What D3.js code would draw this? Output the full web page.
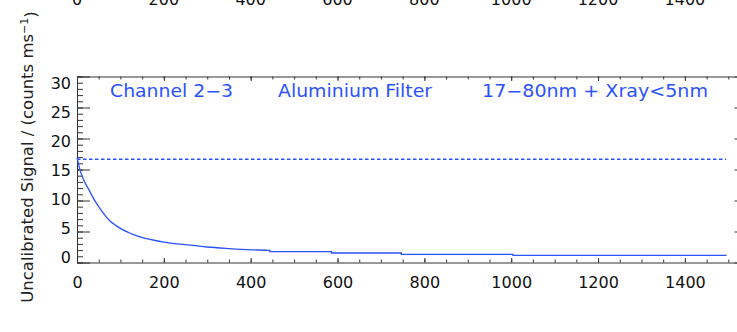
<!DOCTYPE html>
<html>
<head>
<meta charset="utf-8">
<script src="https://cdn.jsdelivr.net/npm/d3@7"></script>
<style>
  html, body { margin: 0; padding: 0; background: #fff; }
  svg { display: block; }
  text { font-family: "DejaVu Sans", sans-serif; }
</style>
</head>
<body>
<svg id="chart" width="737" height="332"></svg>
<script>
// ---- data ----
const timeValues   = [0, 7, 15, 30, 40, 53, 60, 76, 90, 105, 120, 140, 160, 180, 200, 230, 260, 300, 350, 400, 444, 444, 586, 586, 747, 747, 1004, 1004, 1496];
const signalValues = [17.0, 14.9, 13.4, 11.4, 10.1, 8.7, 8.0, 6.7, 5.95, 5.3, 4.8, 4.25, 3.85, 3.55, 3.3, 3.0, 2.8, 2.5, 2.25, 2.05, 1.95, 1.74, 1.74, 1.53, 1.53, 1.32, 1.32, 1.16, 1.16];
const referenceLevel = 16.65;
const referenceEnd = 1495;
const xTickLabels = [0, 200, 400, 600, 800, 1000, 1200, 1400];
const yTickLabels = [0, 5, 10, 15, 20, 25, 30];
const titleParts = ["Channel 2\u22123", "Aluminium Filter", "17\u221280nm + Xray<5nm"];
const yAxisTitle = "Uncalibrated Signal / (counts ms";
const yAxisTitleSup = "\u22121";

// ---- layout ----
const blue = "#2b52ff";
const axisColor = "#333";
const svg = d3.select("#chart");

const x = d3.scaleLinear().domain([0, 1520]).range([77, 737]);
const y = d3.scaleLinear().domain([0, 30]).range([262.5, 76.5]);
const yLabelPos = d3.scaleLinear().domain([0, 30]).range([257, 83]);

const xMinor = d3.range(0, 1501, 50);
const yMinor = d3.range(0, 31, 1);

function styleAxis(g) {
  g.selectAll("path, line").attr("stroke", axisColor).attr("stroke-width", 1);
  g.select(".domain").attr("stroke", axisColor);
}

// bottom axis
const gB = svg.append("g").attr("transform", `translate(0,${y(0)})`);
gB.call(d3.axisBottom(x).tickValues(xMinor).tickSize(-3).tickSizeOuter(0).tickFormat(""));
gB.call(g => g.append("g").call(d3.axisBottom(x).tickValues(xTickLabels).tickSize(-4.5).tickSizeOuter(0).tickFormat(d3.format("d")))
  .call(a => a.select(".domain").remove())
  .call(a => a.selectAll("text").attr("y", 25.5).attr("dy", 0).attr("fill", "#111")
      .attr("font-size", 16).attr("font-family", "DejaVu Sans, sans-serif")));
styleAxis(gB);

// top axis
const gT = svg.append("g").attr("transform", `translate(0,${y(30)})`);
gT.call(d3.axisTop(x).tickValues(xMinor).tickSize(-3).tickSizeOuter(0).tickFormat(""));
gT.append("g").call(d3.axisTop(x).tickValues(xTickLabels).tickSize(-4.5).tickSizeOuter(0).tickFormat(""))
  .call(a => a.select(".domain").remove());
styleAxis(gT);

// left axis
const gL = svg.append("g").attr("transform", `translate(${x(0)},0)`);
gL.call(d3.axisLeft(y).tickValues(yMinor).tickSize(-6).tickSizeOuter(0).tickFormat(""));
gL.append("g").call(d3.axisLeft(y).tickValues(yTickLabels).tickSize(-13).tickSizeOuter(0).tickFormat(""))
  .call(a => a.select(".domain").remove());
styleAxis(gL);
gL.selectAll(".ylab").data(yTickLabels).enter().append("text")
  .attr("class", "ylab")
  .attr("x", -6).attr("y", d => yLabelPos(d)).attr("dy", "0.36em")
  .attr("text-anchor", "end").attr("font-size", 16).attr("fill", "#111")
  .text(d => d);

// right axis
const gR = svg.append("g").attr("transform", `translate(${x(1520)},0)`);
gR.call(d3.axisRight(y).tickValues(yTickLabels).tickSize(-2.5).tickSizeOuter(0).tickFormat(""));
styleAxis(gR);

// cut-off labels of the panel above (cut off in the reference too)
svg.append("g").selectAll("text").data(xTickLabels).enter().append("text")
  .attr("x", d => x(d)).attr("y", 5).attr("text-anchor", "middle")
  .attr("font-size", 16).attr("fill", "#111").text(d => d);

// reference dashed line
svg.append("line")
  .attr("x1", x(0)).attr("x2", x(referenceEnd))
  .attr("y1", y(referenceLevel)).attr("y2", y(referenceLevel))
  .attr("stroke", blue).attr("stroke-width", 1.5).attr("stroke-dasharray", "3.5,2.5");

// signal curve
const pts = timeValues.map((t, i) => [t, signalValues[i]]);
svg.append("path")
  .datum(pts)
  .attr("fill", "none").attr("stroke", blue).attr("stroke-width", 1.3)
  .attr("d", d3.line().x(d => x(d[0])).y(d => y(d[1])).curve(d3.curveMonotoneX));

// title parts
const titleX = [[110, 123], [278, 154], [482, 226]];
svg.append("g").selectAll("text").data(titleParts).enter().append("text")
  .attr("x", (d, i) => titleX[i][0]).attr("y", 97)
  .attr("textLength", (d, i) => titleX[i][1]).attr("lengthAdjust", "spacingAndGlyphs")
  .attr("font-size", 17).attr("fill", blue).text(d => d);

// y axis title (rotated)
const yt = svg.append("text")
  .attr("transform", "translate(33,157) rotate(-90)")
  .attr("text-anchor", "middle").attr("font-size", 16.5).attr("fill", "#222");
yt.append("tspan").text(yAxisTitle);
yt.append("tspan").attr("dy", "-0.5em").attr("font-size", 11).text(yAxisTitleSup);
yt.append("tspan").attr("dy", "0.5em").text(")");
</script>
</body>
</html>
